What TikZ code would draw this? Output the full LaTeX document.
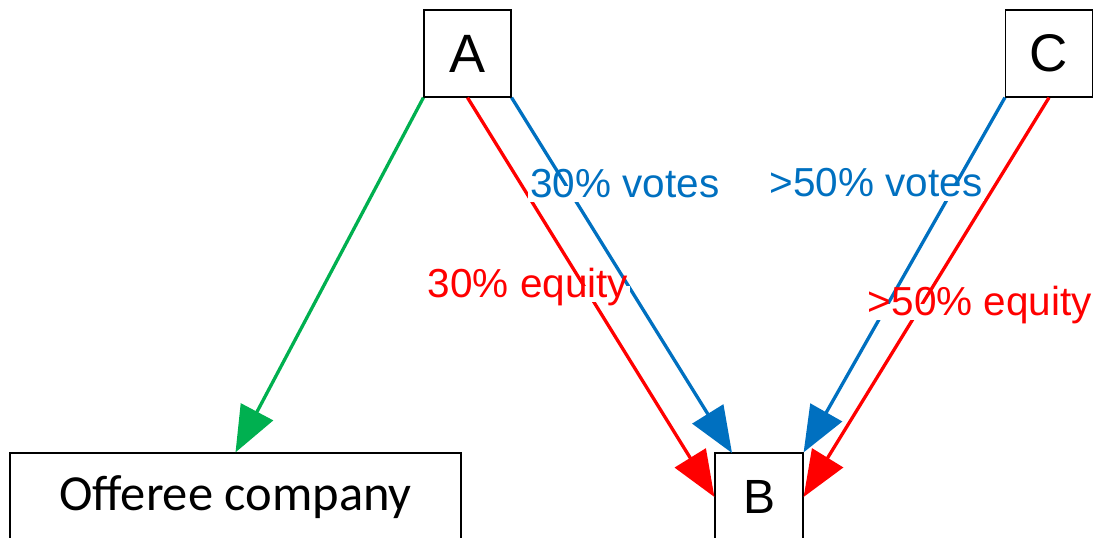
\documentclass[tikz,border=0pt]{standalone}
\usepackage{fontspec}
\setmainfont{Liberation Sans}
\newfontfamily\calibrifont{Carlito}
\usetikzlibrary{arrows.meta}
\definecolor{cgreen}{RGB}{0,176,80}
\definecolor{cblue}{RGB}{0,112,192}
\definecolor{cred}{RGB}{255,0,0}
\begin{document}
\begin{tikzpicture}[x=1pt,y=-1pt,
  box/.style={draw=black, line width=1.2pt, fill=white, inner sep=0pt, text=black},
  conn/.style={line width=3.3pt, -{Triangle[length=46pt,width=36pt]}},
  lbl/.style={fill=white, inner sep=2pt, text height=0.9em, text depth=0.25em, anchor=base,
    font=\fontsize{40.5}{48}\selectfont}]
\useasboundingbox (0,0) rectangle (1098,538);
\clip (0,0) rectangle (1098,538);
% boxes
\node[box, minimum width=87pt, minimum height=87pt, font=\fontsize{54}{60}\selectfont] (A) at (467.5,53.5) {A};
\node[box, minimum width=87pt, minimum height=87pt, font=\fontsize{53}{60}\selectfont] (C) at (1049,53.5) {C};
\node[box, minimum width=88pt, minimum height=88pt, font=\fontsize{48}{55}\selectfont] (B) at (759,497) {B};
\node[box, minimum width=451pt, minimum height=88pt, font=\calibrifont\fontsize{50.5}{58}\selectfont] (O) at (235.5,497) {Offeree company};
\coordinate (Btop) at (732,453);
% connectors
\draw[conn, cgreen] (A.south west) -- (O.north);
\draw[conn, cred] (A.south) -- (B.west);
\draw[conn, cblue] (A.south east) -- (Btop);
\draw[conn, cblue] (C.south west) -- (B.north east);
\draw[conn, cred] (C.south) -- (B.east);
% labels
\node[lbl, text=cblue] (lv) at (625,197) {30\% votes};
\node[lbl, text=cred] (le) at (528,297) {30\% equity};
\node[lbl, text=cblue] (rv) at (876,196) {>50\% votes};
\node[lbl, text=cred] (re) at (980,315) {>50\% equity};
\end{tikzpicture}
\end{document}
